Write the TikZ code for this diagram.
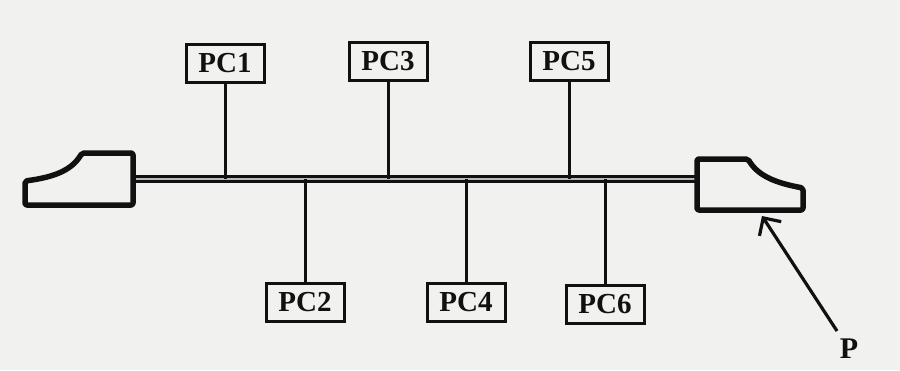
\documentclass[tikz,border=0pt]{standalone}
\usepackage{fontspec}
\setmainfont{Liberation Serif}
\usetikzlibrary{arrows.meta}
\definecolor{paper}{HTML}{F1F1EF}
\definecolor{ink}{HTML}{111111}
\begin{document}
\begin{tikzpicture}[x=1pt,y=-1pt,
  pcbox/.style={draw=ink,line width=3pt,fill=paper,minimum width=78pt,minimum height=38pt,
    inner sep=0pt,font=\fontsize{29}{29}\selectfont\bfseries,text=ink},
  stem/.style={draw=ink,line width=3pt},
  term/.style={draw=ink,line width=5.5pt,line join=round,fill=paper}]
  % page
  \fill[paper] (0,0) rectangle (900,370);
  \useasboundingbox (0,0) rectangle (900,370);

  % bus cable ends
  \coordinate (busL) at (133,179);
  \coordinate (busR) at (697,179);
  % coaxial bus: dark edges with a light core
  \draw[ink,line width=8pt] (busL) -- (busR);
  \draw[gray!55,line width=2.4pt] (busL) -- (busR);

  % terminators
  \draw[term,rounded corners=2pt] (25,205) -- (25,181)
     .. controls (55,177) and (72,170) .. (82,153) -- (133,153) -- (133,205) -- cycle;
  \draw[term,rounded corners=2pt] (697,210) -- (697,159) -- (748,159)
     .. controls (758,176) and (776,183) .. (803,188) -- (803,210) -- cycle;

  % stations
  \node[pcbox] (pc1) at (225,63) {PC1};
  \node[pcbox] (pc3) at (388,61) {PC3};
  \node[pcbox] (pc5) at (569,61) {PC5};
  \node[pcbox] (pc2) at (305,302) {PC2};
  \node[pcbox] (pc4) at (466,302) {PC4};
  \node[pcbox] (pc6) at (605,304) {PC6};

  \foreach \p in {pc1,pc3,pc5}{
    \draw[stem] (\p.south) -- (\p.south |- busL);
  }
  \foreach \p in {pc2,pc4,pc6}{
    \draw[stem] (\p.north) -- (\p.north |- busL);
  }

  % label for the terminator
  \node[font=\fontsize{30}{30}\selectfont\bfseries,text=ink] (p) at (849,349) {P};
  \coordinate (tip) at (762,216);
  \draw[ink,line width=3.2pt,-{Straight Barb[length=13pt,width=26pt]}] (837,331) -- (tip);
\end{tikzpicture}
\end{document}
